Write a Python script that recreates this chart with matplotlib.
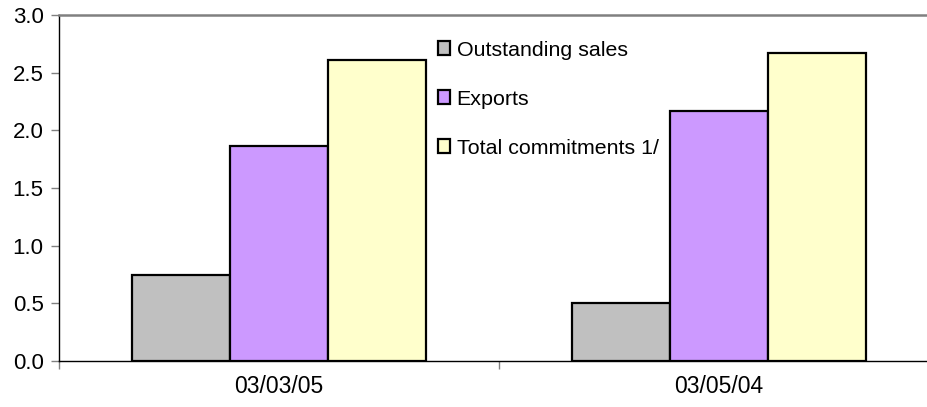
import matplotlib
matplotlib.use("Agg")
import matplotlib.pyplot as plt
import numpy as np

plt.rcParams['font.family'] = ['Liberation Sans', 'DejaVu Sans']

categories = ["03/03/05", "03/05/04"]
series_names = ["Outstanding sales", "Exports", "Total commitments 1/"]
outstanding = [0.75, 0.50]
exports = [1.86, 2.17]
total_commitments = [2.61, 2.67]
colors = ["#C0C0C0", "#CC99FF", "#FFFFCC"]
yticks = [0.0, 0.5, 1.0, 1.5, 2.0, 2.5, 3.0]

W, H = 928, 407
fig = plt.figure(figsize=(W / 100, H / 100), dpi=100)
ax = fig.add_axes([59 / W, (H - 361) / H, 880 / W, 346 / H])

x = np.arange(len(categories))
bw = 0.2227
for i, (vals, name, c) in enumerate(zip([outstanding, exports, total_commitments], series_names, colors)):
    ax.bar(x + (i - 1) * bw, vals, bw, color=c, edgecolor="black", linewidth=1.6, label=name, zorder=3)

ax.set_xlim(-0.5, 1.5)
ax.set_ylim(0, 3.0)
ax.set_yticks(yticks)
ax.set_yticklabels([f"{v:.1f}" for v in yticks], fontsize=16)

# category labels at centers, boundary ticks between them
ax.set_xticks(x)
ax.set_xticklabels(categories, fontsize=16.5)
ax.tick_params(axis="x", which="major", length=0, pad=10)
ax.set_xticks([-0.5, 0.5, 1.5], minor=True)
ax.tick_params(axis="x", which="minor", length=6, width=1, color="#808080", direction="out")
ax.tick_params(axis="y", length=6, width=1, color="#808080", direction="out", pad=5)

for s in ["left", "bottom"]:
    ax.spines[s].set_color("black")
    ax.spines[s].set_linewidth(1.0)
ax.spines["top"].set_color("#808080")
ax.spines["top"].set_linewidth(1.8)
ax.spines["right"].set_color("#808080")
ax.spines["right"].set_linewidth(1.8)

leg = ax.legend(loc="upper left", bbox_to_anchor=(427 / W, (H - 30) / H),
                bbox_transform=fig.transFigure, frameon=False, fontsize=15.4,
                handlelength=0.58, handleheight=0.58, handletextpad=0.3,
                labelspacing=1.4, borderpad=0)
for h in leg.legend_handles:
    h.set_linewidth(1.6)

fig.savefig("out.png", dpi=100)
